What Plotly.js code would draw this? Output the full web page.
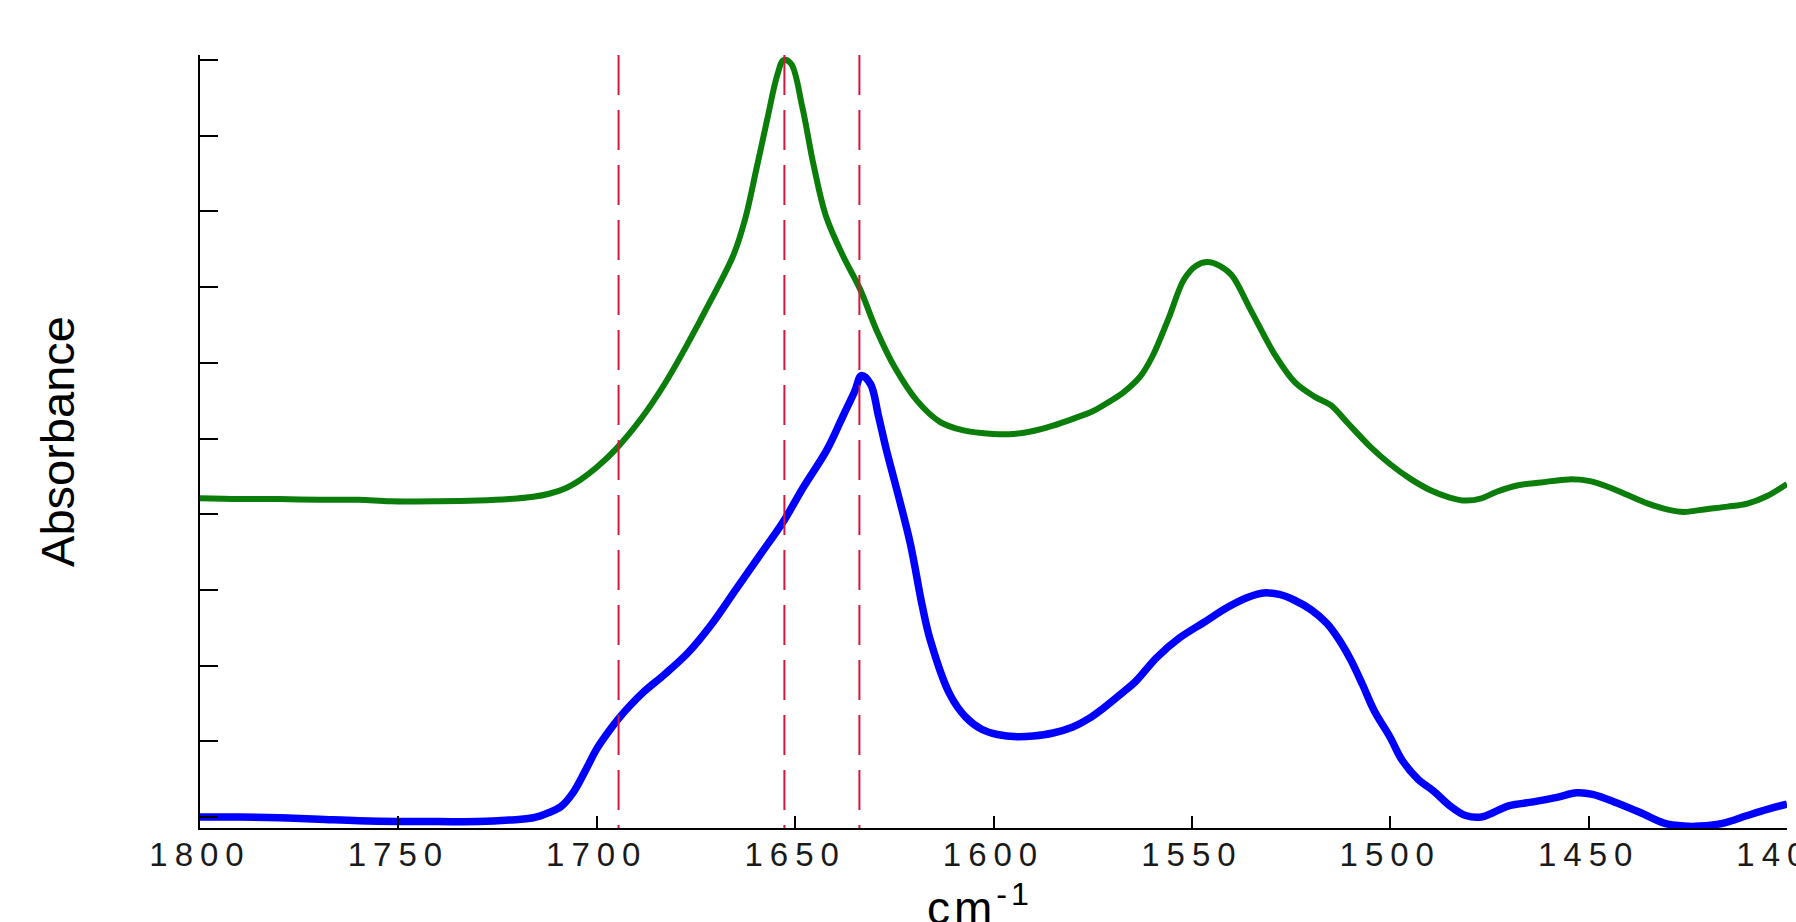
<!DOCTYPE html>
<html>
<head>
<meta charset="utf-8">
<script src="https://cdn.plot.ly/plotly-3.0.1.min.js"></script>
<style>
  html, body { margin: 0; padding: 0; background: #ffffff; overflow: hidden; }
  #chart { width: 1796px; height: 922px; }
  .xtick text { letter-spacing: 7px; }
  .annotation-text { letter-spacing: 4px; }
</style>
</head>
<body>
<div id="chart"></div>
<script>
// Wavenumbers (cm^-1) and absorbance values (arbitrary units, offset)
const greenWavenumber = [1800,1790,1780,1770,1760,1752,1740,1730,1722,1716,1712,1708,1704,1700,1695,1688.7,1682.9,1677.1,1671.3,1665.5,1662.6,1659.8,1656.9,1654.5,1652.9,1651,1648.2,1645.3,1642.3,1638,1633.7,1629.4,1625,1619.3,1613.5,1607.8,1600,1595,1590,1585,1580,1575,1571,1567,1563,1560,1556,1552,1549,1546,1543,1540,1535,1529,1524,1519,1515,1511,1505,1500,1495,1490,1485,1481,1477,1473,1468,1462,1455,1450,1445,1440,1435,1430,1426,1420,1415,1410,1405,1400];
const greenAbsorbance = [4.21,4.20,4.20,4.19,4.19,4.17,4.17,4.18,4.20,4.23,4.27,4.34,4.46,4.62,4.87,5.27,5.72,6.25,6.82,7.43,7.9,8.55,9.25,9.8,10.0,9.95,9.38,8.6,7.95,7.42,6.98,6.42,5.95,5.5,5.22,5.11,5.06,5.06,5.1,5.17,5.26,5.36,5.48,5.62,5.82,6.08,6.57,7.1,7.28,7.33,7.28,7.16,6.68,6.1,5.74,5.55,5.44,5.22,4.89,4.66,4.47,4.32,4.22,4.18,4.21,4.3,4.38,4.42,4.46,4.44,4.36,4.25,4.14,4.06,4.03,4.07,4.1,4.14,4.24,4.4];

const blueWavenumber = [1800,1790,1780,1770,1760,1750,1740,1730,1722,1716,1712,1709,1706,1703,1700,1697,1694.5,1692,1688,1683,1677,1671,1665,1659,1653,1648,1642,1638,1635,1633.3,1631,1629,1627,1625,1621,1618,1616,1611,1607,1603,1599,1594,1590,1585,1580,1576,1572,1568,1564,1559,1553,1547,1541,1536,1532,1528,1524,1520,1516,1513,1510,1507,1504,1500,1497,1493,1489,1485,1481,1477,1474,1470,1464,1458,1453,1449,1443,1437,1431,1426,1422,1416,1410,1405,1400];
const blueAbsorbance = [0.0,0.0,-0.01,-0.03,-0.05,-0.06,-0.06,-0.06,-0.04,-0.01,0.06,0.14,0.32,0.6,0.9,1.13,1.3,1.45,1.66,1.88,2.17,2.55,3.0,3.45,3.9,4.35,4.85,5.29,5.62,5.83,5.72,5.3,4.85,4.45,3.62,2.8,2.35,1.62,1.32,1.16,1.09,1.06,1.07,1.11,1.19,1.3,1.45,1.62,1.8,2.1,2.37,2.57,2.77,2.9,2.96,2.94,2.86,2.74,2.56,2.35,2.08,1.75,1.4,1.05,0.75,0.5,0.34,0.15,0.02,0.0,0.06,0.15,0.2,0.26,0.32,0.3,0.19,0.06,-0.08,-0.12,-0.12,-0.08,0.02,0.1,0.17];

// Marker positions (dashed red lines)
const markerWavenumbers = [1694.5, 1652.7, 1633.8];

// Axis ticks and titles
const xTickValues = [1800,1750,1700,1650,1600,1550,1500,1450,1400];
const xTickLabels = ["1800","1750","1700","1650","1600","1550","1500","1450","1400"];
const yTickValues = [0,1,2,3,4,5,6,7,8,9,10];
const xTitle = "cm<sup>-1</sup>";
const yTitle = "Absorbance";

const FONT = "Liberation Sans, Arial, Helvetica, sans-serif";

const traces = [
  {
    x: greenWavenumber, y: greenAbsorbance, type: "scatter", mode: "lines",
    line: {color: "#0a7d0a", width: 6, shape: "spline", smoothing: 1.0},
    hoverinfo: "skip", showlegend: false
  },
  {
    x: blueWavenumber, y: blueAbsorbance, type: "scatter", mode: "lines",
    line: {color: "#0000ff", width: 7.5, shape: "spline", smoothing: 1.0},
    hoverinfo: "skip", showlegend: false
  }
];

const shapes = markerWavenumbers.map(v => ({
  type: "line", xref: "x", yref: "paper",
  x0: v, x1: v, y0: 1, y1: 0,
  line: {color: "#d6173d", width: 2, dash: "40px,15px"},
  layer: "above"
}));

const layout = {
  width: 1796, height: 922,
  margin: {l: 200, r: 9, t: 55, b: 94, pad: 0},
  paper_bgcolor: "#ffffff", plot_bgcolor: "#ffffff",
  showlegend: false,
  font: {family: FONT, color: "#1a1a1a"},
  xaxis: {
    range: [1800, 1400], autorange: false,
    tickmode: "array", tickvals: xTickValues, ticktext: xTickLabels,
    ticklabeloverflow: "allow", ticklabelstandoff: -4,
    ticks: "inside", ticklen: 12, tickwidth: 2, tickcolor: "#000",
    showline: true, linewidth: 2, linecolor: "#000",
    showgrid: false, zeroline: false,
    tickfont: {family: FONT, size: 33, color: "#1a1a1a"},
    automargin: false
  },
  yaxis: {
    range: [-0.145, 10.066], autorange: false,
    tickmode: "array", tickvals: yTickValues,
    showticklabels: false,
    ticks: "inside", ticklen: 18, tickwidth: 2, tickcolor: "#000",
    showline: true, linewidth: 2, linecolor: "#000",
    showgrid: false, zeroline: false,
    title: {text: yTitle, font: {family: FONT, size: 47, color: "#000"}, standoff: 109},
    automargin: false
  },
  annotations: [{
    text: xTitle, xref: "paper", yref: "paper",
    x: 0.4918, y: -0.060, xanchor: "center", yanchor: "top",
    showarrow: false,
    font: {family: FONT, size: 46, color: "#000"}
  }],
  shapes: shapes
};

Plotly.newPlot("chart", traces, layout, {staticPlot: true, displayModeBar: false});
</script>
</body>
</html>
